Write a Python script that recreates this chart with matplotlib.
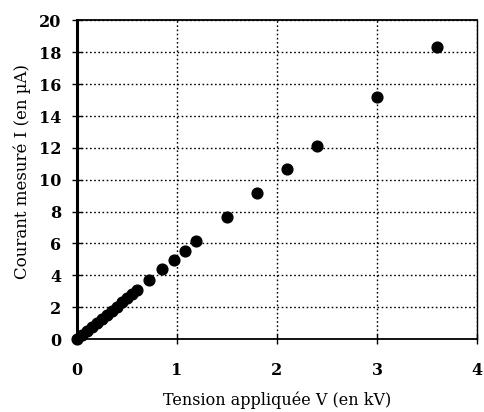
import matplotlib
matplotlib.use("Agg")
import matplotlib.pyplot as plt

tension_kv = [0.0, 0.05, 0.1, 0.15, 0.2, 0.25, 0.3, 0.35, 0.4, 0.45, 0.5, 0.55, 0.6,
              0.72, 0.85, 0.97, 1.08, 1.19, 1.5, 1.8, 2.1, 2.4, 3.0, 3.6]
courant_ua = [0.0, 0.25, 0.5, 0.76, 1.0, 1.27, 1.5, 1.78, 2.0, 2.3, 2.55, 2.8, 3.05,
              3.7, 4.4, 4.97, 5.53, 6.15, 7.65, 9.15, 10.65, 12.15, 15.2, 18.35]
x_ticks = [0, 1, 2, 3, 4]
y_ticks = [0, 2, 4, 6, 8, 10, 12, 14, 16, 18, 20]

plt.rcParams['font.family'] = ['DejaVu Serif']

fig = plt.figure(figsize=(4.85, 4.12), dpi=100)
ax = fig.add_axes([77/485, (412-339)/412, (477-77)/485, (339-20.5)/412])

ax.scatter(tension_kv, courant_ua, s=60, color='black', zorder=3, clip_on=False)
ax.set_xlim(0, 4)
ax.set_ylim(0, 20)
ax.set_xticks(x_ticks)
ax.set_yticks(y_ticks)
ax.set_xticklabels([str(t) for t in x_ticks], fontsize=11.5, fontweight='bold')
ax.set_yticklabels([str(t) for t in y_ticks], fontsize=11.5, fontweight='bold')
ax.tick_params(direction='inout', length=7, width=1, pad=8, colors='black')
ax.tick_params(axis='x', pad=13)
ax.grid(True, linestyle=(0, (1.2, 1.8)), color='black', linewidth=1.0)
ax.set_axisbelow(True)

ax.spines['left'].set_linewidth(2.2)
ax.spines['bottom'].set_linewidth(1.3)
ax.spines['top'].set_linewidth(1.3)
ax.spines['right'].set_linewidth(1.0)

ax.set_xlabel('Tension appliquée V (en kV)', fontsize=11.5)
ax.set_ylabel('Courant mesuré I (en µA)', fontsize=12)
ax.xaxis.set_label_coords(0.5, -0.165)
ax.yaxis.set_label_coords(-0.115, 0.525)

fig.savefig('out.png', dpi=100)
